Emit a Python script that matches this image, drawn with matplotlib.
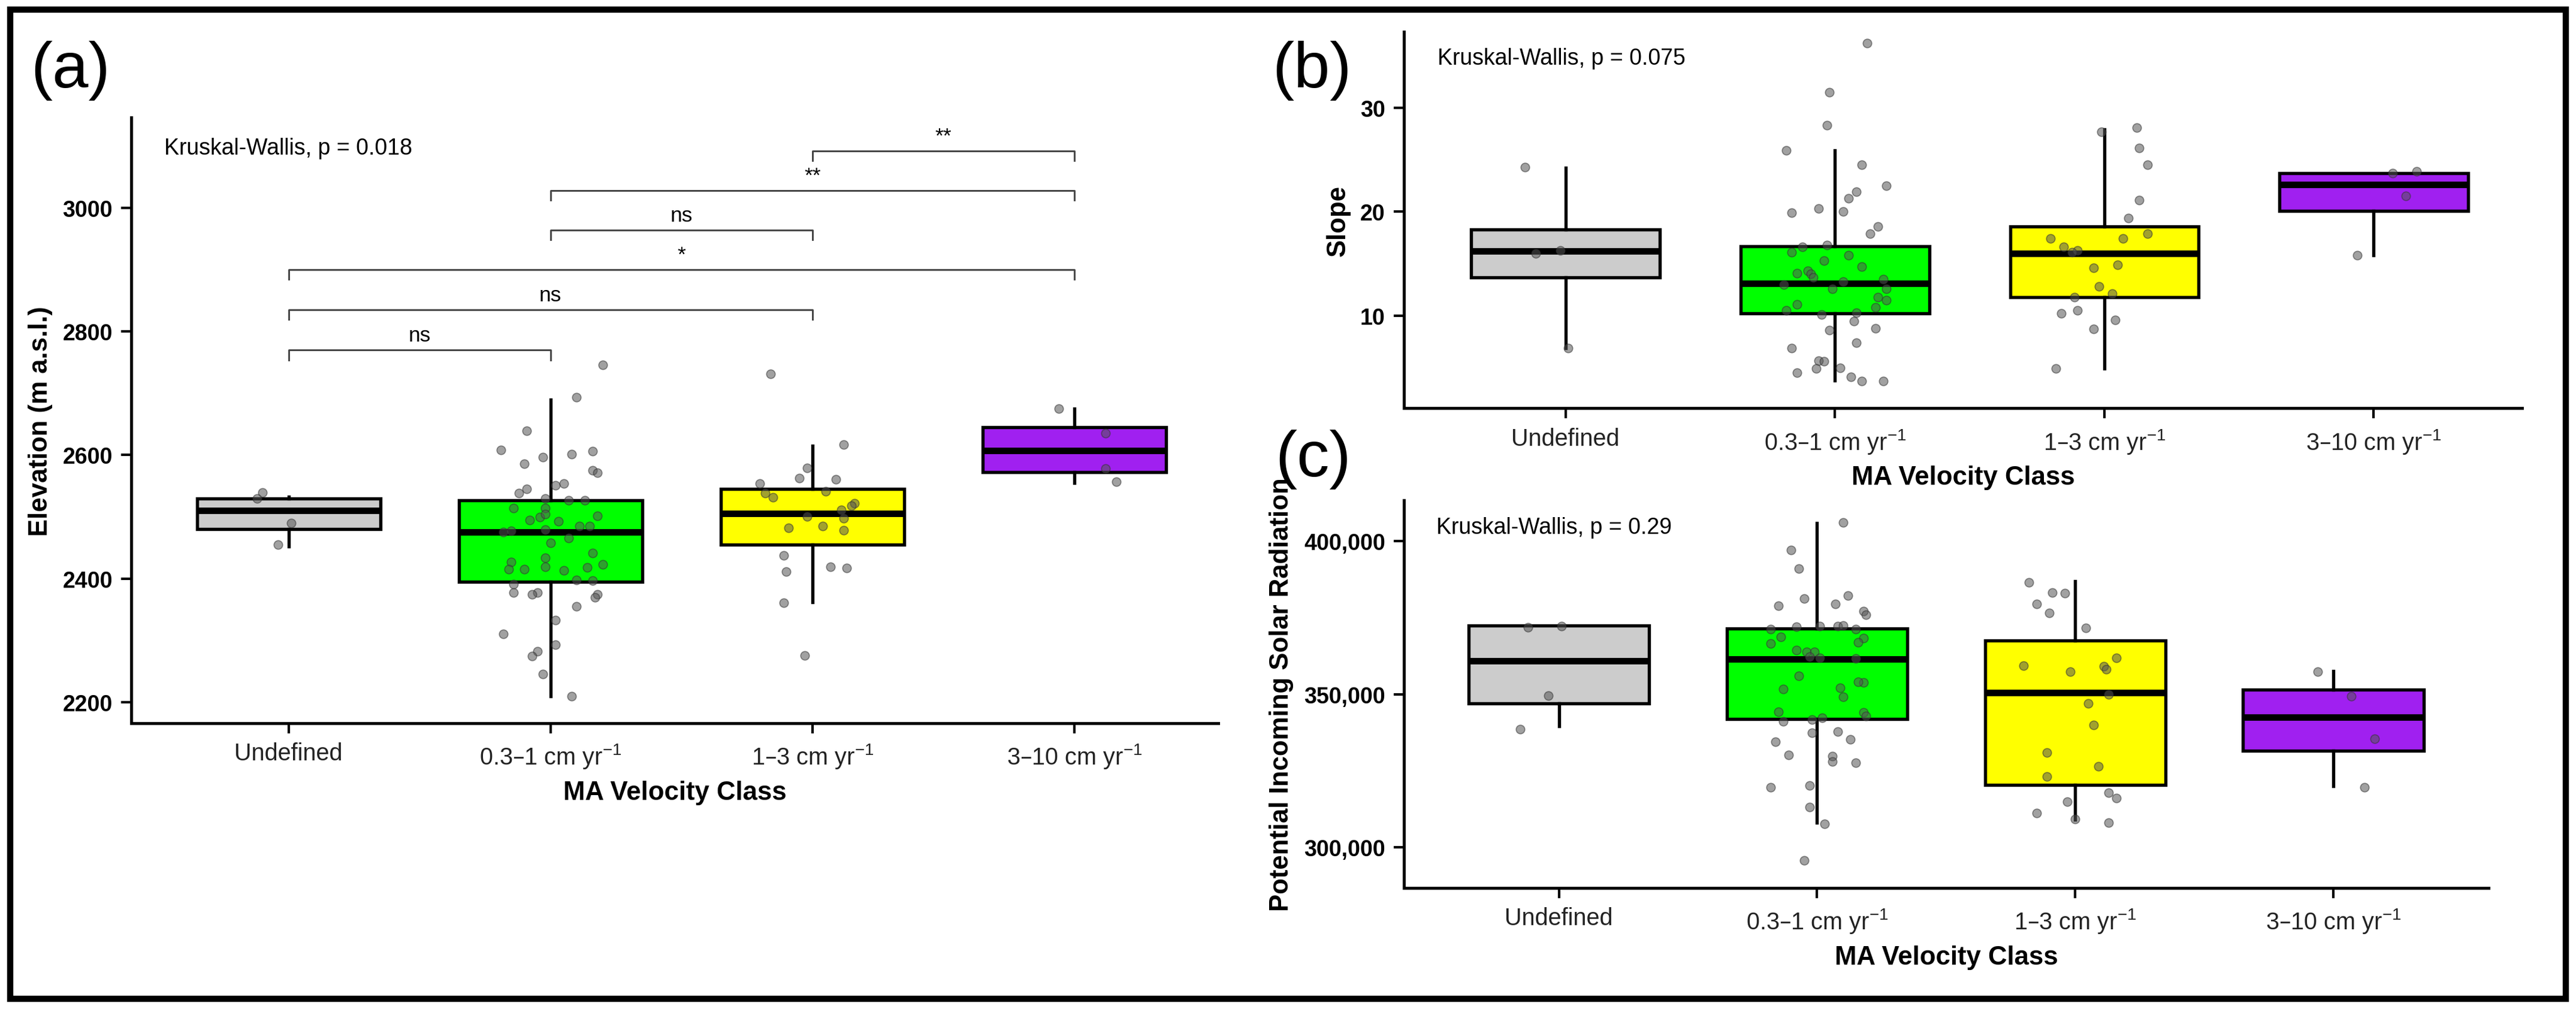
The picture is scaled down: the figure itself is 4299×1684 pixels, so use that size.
import matplotlib.pyplot as plt
import matplotlib.patches as mpatches
import numpy as np

plt.rcParams['font.family'] = ['Liberation Sans', 'DejaVu Sans']
plt.rcParams['mathtext.default'] = 'regular'

classes = ['Undefined', '0.3–1 cm yr$^{-1}$', '1–3 cm yr$^{-1}$', '3–10 cm yr$^{-1}$']
colors = ['#cccccc', '#00ff00', '#ffff00', '#a020f0']

# box stats: (whislo, q1, med, q3, whishi)
elev_box = [(2452, 2480, 2510, 2530, 2533), (2210, 2395, 2475, 2527, 2690),
            (2362, 2455, 2505, 2545, 2615), (2555, 2572, 2607, 2645, 2675)]
slope_box = [(6.9, 13.7, 16.2, 18.3, 24.2), (3.8, 10.2, 13.1, 16.7, 25.9),
             (4.9, 11.8, 16.0, 18.6, 27.9), (15.8, 20.1, 22.6, 23.7, 23.7)]
solar_box = [(339500, 347000, 361000, 372500, 372500), (308000, 342000, 361500, 371500, 406000),
             (309000, 320500, 350500, 367500, 387000), (320000, 331500, 342500, 351500, 357500)]

# points: (x offset from class centre, value)
elev_pts = [
    [(-0.1, 2539), (-0.12, 2530), (0.01, 2490), (-0.04, 2455)],
    [(0.2, 2746), (0.1, 2693), (-0.09, 2639), (-0.19, 2608), (0.16, 2606), (-0.1, 2586), (-0.03, 2597),
     (0.08, 2601), (0.16, 2575), (0.18, 2571), (-0.09, 2545), (-0.12, 2538), (0.02, 2551), (0.05, 2554),
     (-0.02, 2530), (0.07, 2527), (0.13, 2527), (-0.14, 2514), (-0.02, 2514), (0.18, 2502), (-0.04, 2500),
     (-0.02, 2504), (-0.08, 2495), (0.03, 2493), (0.15, 2485), (0.11, 2485), (-0.18, 2475), (-0.15, 2477),
     (-0.02, 2479), (0.07, 2466), (0.0, 2458), (0.16, 2441), (-0.02, 2434), (0.2, 2423), (-0.15, 2427),
     (-0.16, 2415), (-0.1, 2415), (-0.02, 2419), (0.05, 2413), (0.14, 2418), (0.1, 2398), (0.16, 2397),
     (-0.14, 2391), (-0.05, 2377), (-0.07, 2375), (-0.14, 2377), (0.18, 2375), (0.17, 2370), (0.1, 2355),
     (0.02, 2333), (-0.18, 2311), (0.02, 2293), (-0.05, 2282), (-0.07, 2275), (-0.03, 2246), (0.08, 2210)],
    [(-0.16, 2731), (0.12, 2617), (-0.02, 2579), (-0.05, 2563), (0.09, 2561), (-0.2, 2554), (0.05, 2541),
     (-0.18, 2538), (-0.15, 2532), (0.16, 2522), (0.15, 2518), (0.11, 2511), (-0.02, 2501), (0.12, 2498),
     (0.04, 2485), (-0.09, 2482), (0.12, 2478), (-0.11, 2438), (-0.1, 2411), (0.07, 2419), (0.13, 2417),
     (-0.11, 2361), (-0.03, 2276)],
    [(-0.06, 2675), (0.12, 2635), (0.12, 2578), (0.16, 2557)],
]
slope_pts = [
    [(-0.15, 24.3), (-0.02, 16.3), (-0.11, 16.0), (0.01, 6.9)],
    [(0.12, 36.2), (-0.02, 31.5), (-0.03, 28.3), (-0.18, 25.9), (0.1, 24.5), (0.19, 22.5), (0.08, 21.9),
     (0.05, 21.3), (-0.06, 20.3), (-0.16, 19.9), (0.03, 20.0), (0.16, 18.6), (0.13, 17.9), (-0.03, 16.8),
     (-0.12, 16.6), (-0.16, 16.1), (0.05, 15.8), (-0.04, 15.3), (0.1, 14.7), (-0.14, 14.1), (-0.1, 14.3),
     (-0.09, 14.0), (-0.08, 13.7), (0.18, 13.5), (-0.19, 13.0), (0.03, 13.3), (-0.01, 12.6), (0.19, 12.6),
     (0.16, 11.8), (-0.14, 11.1), (0.19, 11.5), (0.15, 10.8), (-0.18, 10.5), (0.08, 10.3), (-0.05, 10.1),
     (0.07, 9.5), (0.15, 8.8), (-0.02, 8.6), (0.08, 7.4), (-0.16, 6.9), (-0.06, 5.7), (-0.04, 5.6),
     (0.02, 5.0), (-0.07, 4.9), (-0.14, 4.5), (0.06, 4.1), (0.1, 3.7), (0.18, 3.7)],
    [(0.12, 28.1), (-0.01, 27.7), (0.13, 26.1), (0.16, 24.5), (0.13, 21.1), (0.09, 19.4), (0.16, 17.9),
     (-0.2, 17.4), (0.07, 17.4), (-0.15, 16.6), (-0.1, 16.3), (-0.12, 16.1), (0.05, 14.9), (-0.04, 14.6),
     (-0.02, 12.8), (0.03, 12.1), (-0.11, 11.8), (-0.1, 10.5), (-0.16, 10.2), (0.04, 9.6), (-0.04, 8.7),
     (-0.18, 4.9)],
    [(0.07, 23.7), (0.16, 23.9), (0.12, 21.5), (-0.06, 15.8)],
]
solar_pts = [
    [(-0.12, 371900), (0.01, 372300), (-0.04, 349600), (-0.15, 338700)],
    [(0.1, 406200), (-0.1, 397200), (-0.07, 391100), (-0.05, 381300), (0.12, 382300), (0.07, 379600),
     (-0.15, 378900), (0.18, 377200), (0.19, 376000), (-0.08, 372100), (-0.18, 371300), (0.01, 372300),
     (0.08, 372300), (0.1, 372500), (0.15, 371300), (-0.14, 368700), (0.18, 368300), (0.16, 367000),
     (-0.18, 366600), (-0.08, 364500), (-0.04, 363800), (-0.01, 363800), (-0.03, 362300), (0.01, 361900),
     (0.15, 361700), (-0.07, 356000), (-0.13, 351700), (0.18, 353800), (0.16, 354000), (0.09, 352100),
     (0.1, 349100), (-0.15, 344200), (0.18, 344000), (0.19, 343000), (0.02, 342300), (-0.13, 341100),
     (-0.02, 341700), (-0.02, 337400), (0.08, 337800), (0.13, 335300), (-0.16, 334500), (-0.11, 330200),
     (0.06, 329800), (0.15, 327600), (0.06, 328100), (-0.18, 319600), (-0.03, 320200), (-0.03, 313200),
     (0.03, 307600), (-0.05, 295700)],
    [(-0.18, 386600), (-0.09, 383200), (-0.04, 383000), (-0.15, 379600), (-0.1, 376600), (0.04, 371700),
     (-0.2, 359400), (0.16, 361900), (0.11, 359100), (0.12, 358100), (-0.02, 357400), (0.13, 350000),
     (0.05, 347000), (0.07, 340000), (-0.11, 331000), (0.09, 326400), (-0.11, 323200), (0.13, 317900),
     (0.16, 316200), (-0.03, 314900), (-0.15, 311300), (0.0, 309300), (0.13, 308100)],
    [(-0.06, 357400), (0.07, 349400), (0.16, 335500), (0.12, 319600)],
]

# significance brackets for elevation: (i, j, y, label)
brackets = [(1, 2, 2770, 'ns'), (1, 3, 2835, 'ns'), (1, 4, 2900, '*'),
            (2, 3, 2964, 'ns'), (2, 4, 3028, '**'), (3, 4, 3092, '**')]


def panel(ax, box, pts, ylabel, ylim, yticks, kw_text, fmt=None):
    stats = [dict(whislo=b[0], q1=b[1], med=b[2], q3=b[3], whishi=b[4], fliers=[]) for b in box]
    bp = ax.bxp(stats, positions=[1, 2, 3, 4], widths=0.7, patch_artist=True, showcaps=False,
                boxprops=dict(linewidth=1.3, edgecolor='black'),
                medianprops=dict(color='black', linewidth=2.6),
                whiskerprops=dict(color='black', linewidth=1.3), zorder=2)
    for patch, c in zip(bp['boxes'], colors):
        patch.set_facecolor(c)
    for i, p in enumerate(pts):
        xs = [i + 1 + d for d, v in p]
        ys = [v for d, v in p]
        ax.scatter(xs, ys, s=12, color='#555555', alpha=0.55, edgecolors='#333333',
                   linewidths=0.4, zorder=3)
    ax.set_xlim(0.4, 4.55)
    ax.set_ylim(*ylim)
    ax.set_yticks(yticks)
    if fmt:
        ax.set_yticklabels([fmt(t) for t in yticks])
    ax.set_xticks([1, 2, 3, 4])
    ax.set_xticklabels(classes, fontsize=9.5, color='#222222')
    for lab in ax.get_yticklabels():
        lab.set_fontweight('bold')
        lab.set_fontsize(9)
    ax.set_xlabel('MA Velocity Class', fontsize=10.5, fontweight='bold')
    ax.set_ylabel(ylabel, fontsize=10.5, fontweight='bold')
    for s in ['top', 'right']:
        ax.spines[s].set_visible(False)
    for s in ['left', 'bottom']:
        ax.spines[s].set_linewidth(1.2)
    ax.tick_params(length=4, width=1)
    ax.text(0.03, 0.93, kw_text, transform=ax.transAxes, fontsize=9, va='center')


fig = plt.figure(figsize=(4299 / 300, 1685 / 300), dpi=300)

ax_a = fig.add_axes([0.051, 0.283, 0.422, 0.600])
ax_b = fig.add_axes([0.545, 0.595, 0.434, 0.373])
ax_c = fig.add_axes([0.545, 0.120, 0.421, 0.384])

panel(ax_a, elev_box, elev_pts, 'Elevation (m a.s.l.)', (2166, 3146),
      [2200, 2400, 2600, 2800, 3000], 'Kruskal-Wallis, p = 0.018')
panel(ax_b, slope_box, slope_pts, 'Slope', (1.1, 37.3), [10, 20, 30], 'Kruskal-Wallis, p = 0.075')
panel(ax_c, solar_box, solar_pts, 'Potential Incoming Solar Radiation', (286800, 413400),
      [300000, 350000, 400000], 'Kruskal-Wallis, p = 0.29', fmt=lambda t: f'{t:,}')
ax_c.set_xlim(0.4, 4.6)
ax_a.texts[-1].set_position((0.03, 0.95))

for i, j, y, lab in brackets:
    ax_a.plot([i, i, j, j], [y - 16, y, y, y - 16], color='#444444', linewidth=0.7)
    ax_a.text((i + j) / 2, y + 8, lab, ha='center', va='bottom', fontsize=8.5)

fig.text(0.012, 0.93, '(a)', fontsize=26, va='center')
fig.text(0.494, 0.93, '(b)', fontsize=26, va='center')
fig.text(0.495, 0.545, '(c)', fontsize=26, va='center')

fig.patches.append(mpatches.Rectangle((0.004, 0.01), 0.992, 0.98, transform=fig.transFigure,
                                      fill=False, edgecolor='black', linewidth=2.5))

plt.savefig('out.png', dpi=300)
